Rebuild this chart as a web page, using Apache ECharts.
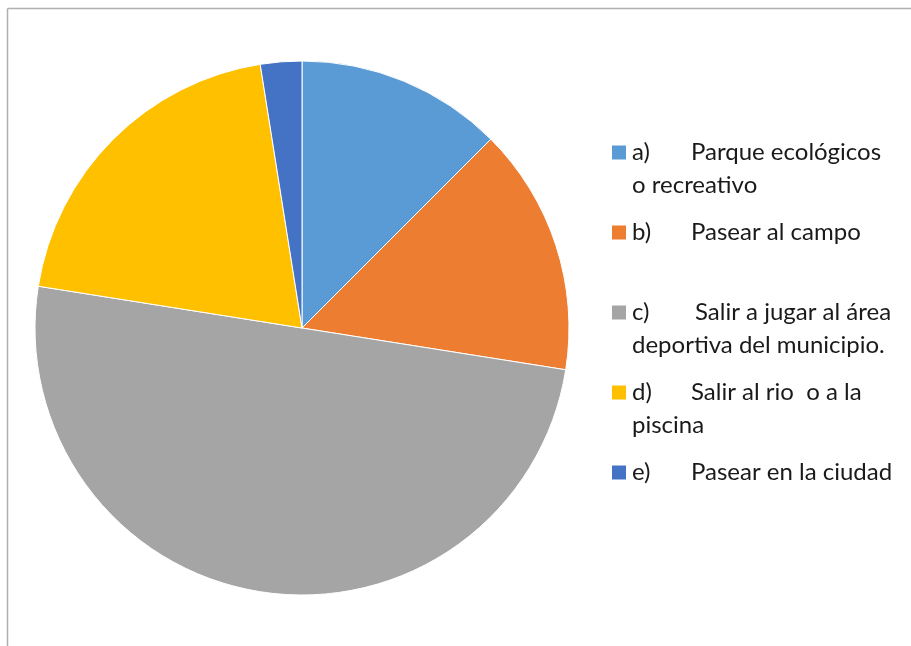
<!DOCTYPE html>
<html>
<head>
<meta charset="utf-8">
<script src="https://cdn.jsdelivr.net/npm/echarts@6/dist/echarts.min.js"></script>
<style>html,body{margin:0;padding:0;background:#fff;}#c{width:911px;height:646px;}</style>
</head>
<body>
<div id="c"></div>
<script>
const letters = ['a)', 'b)', 'c)', 'd)', 'e)'];
const categories = [
  'Parque ecológicos\no recreativo',
  'Pasear al campo\n ',
  'Salir a jugar al área\ndeportiva del municipio.',
  'Salir al rio  o a la\npiscina',
  'Pasear en la ciudad'
];
const values = [5, 6, 20, 8, 1];
const colors = ['#5B9BD5', '#ED7D31', '#A5A5A5', '#FFC000', '#4472C4'];

const FONT = 'Lato';
const FS = 24;
const letterW = [59, 59, 63, 59, 59];
const rich = {
  g: { width: 6, height: 14 },
  t: { fontSize: FS, fontFamily: FONT, color: '#1a1a1a', lineHeight: 33 },
  ind: { width: 20, lineHeight: 33 }
};
colors.forEach((c, i) => {
  rich['m' + i] = { width: 14, height: 14, backgroundColor: c };
  rich['l' + i] = { width: letterW[i], fontSize: FS, fontFamily: FONT, color: '#1a1a1a', lineHeight: 33 };
});

const chart = echarts.init(document.getElementById('c'), null, { renderer: 'canvas' });
chart.setOption({
  animation: false,
  color: colors,
  graphic: [
    { type: 'line', shape: { x1: 7.5, y1: 8.5, x2: 911, y2: 8.5 }, style: { stroke: '#b0b0b0', lineWidth: 1.5 }, silent: true },
    { type: 'line', shape: { x1: 7.5, y1: 8.5, x2: 7.5, y2: 646 }, style: { stroke: '#b0b0b0', lineWidth: 1.5 }, silent: true }
  ],
  legend: {
    orient: 'vertical',
    left: 602,
    top: 135.5,
    icon: 'none',
    itemWidth: 0,
    itemHeight: 14,
    itemGap: 23,
    data: categories,
    formatter: function (name) {
      const i = categories.indexOf(name);
      const parts = name.split('\n');
      let s = '{m' + i + '|}{g|}{l' + i + '|' + letters[i] + '}{t|' + parts[0] + '}';
      if (parts.length > 1) s += '\n{ind|}{t|' + parts[1] + '}';
      return s;
    },
    textStyle: { rich: rich, fontFamily: FONT, fontSize: FS }
  },
  series: [{
    type: 'pie',
    center: [302, 328],
    radius: [0, 267],
    startAngle: 90,
    clockwise: true,
    label: { show: false },
    labelLine: { show: false },
    itemStyle: { borderColor: '#ffffff', borderWidth: 1 },
    emphasis: { disabled: true },
    data: categories.map((n, i) => ({ name: n, value: values[i] }))
  }]
});
</script>
</body>
</html>
